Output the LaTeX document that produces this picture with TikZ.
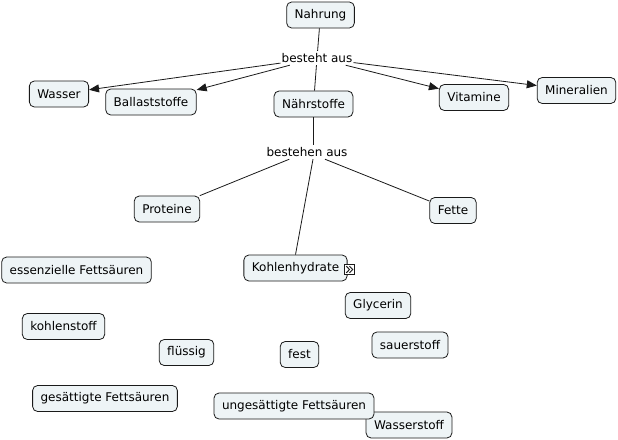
\documentclass[tikz,border=0pt]{standalone}
\usepackage{fontspec}
\setmainfont{DejaVu Sans}
\usetikzlibrary{arrows.meta}
\definecolor{cfill}{HTML}{EEF4F6}
\definecolor{cline}{HTML}{1A1A1A}
\begin{document}
\begin{tikzpicture}[x=1pt,y=-1pt,
  concept/.style={draw=cline, fill=cfill, rounded corners=5pt, minimum height=26pt,
    inner xsep=8pt, inner ysep=0pt, font=\fontsize{12}{14}\selectfont, line width=0.8pt},
  linkph/.style={inner xsep=1pt, inner ysep=0pt, minimum height=14pt,
    font=\fontsize{12}{14}\selectfont},
  conn/.style={line width=0.8pt, draw=cline},
  arr/.style={conn, -{Triangle[length=10pt,width=8pt]}}]
\useasboundingbox (0,0) rectangle (618,439);
\fill[white] (0,0) rectangle (618,439);

% concepts
\node[concept] (nahrung) at (320.5,15) {Nahrung};
\node[concept] (wasser) at (59,94) {Wasser};
\node[concept] (ballast) at (151,102) {Ballaststoffe};
\node[concept] (naehr) at (313.5,104) {Nährstoffe};
\node[concept] (vitamine) at (474,97.5) {Vitamine};
\node[concept] (mineral) at (576.5,90.5) {Mineralien};
\node[concept] (proteine) at (167,209) {Proteine};
\node[concept] (fette) at (453,210.5) {Fette};
\node[concept] (kohl) at (295.5,268) {Kohlenhydrate};
\node[concept] (essenz) at (76.5,270) {essenzielle Fettsäuren};
\node[concept] (kstoff) at (63.5,326.5) {kohlenstoff};
\node[concept] (fluessig) at (186.5,352.5) {flüssig};
\node[concept] (gesaett) at (105,398.5) {gesättigte Fettsäuren};
\node[concept] (glycerin) at (378,305.5) {Glycerin};
\node[concept] (sauer) at (410,345) {sauerstoff};
\node[concept] (fest) at (299.5,354.5) {fest};
\node[concept] (wstoff) at (409,425) {Wasserstoff};
\node[concept] (ungesaett) at (294,406) {ungesättigte Fettsäuren};

% expand icon
\node[draw=cline, fill=white, line width=0.8pt, minimum size=9.5pt, inner sep=0pt] (kicon) at (349.5,269.5) {};
\draw[conn, line width=1pt] ([shift={(-3.2,-3.3)}]kicon.center) -- ([shift={(0,0)}]kicon.center) -- ([shift={(-3.2,3.3)}]kicon.center);
\draw[conn, line width=1pt] ([shift={(0,-3.3)}]kicon.center) -- ([shift={(3.2,0)}]kicon.center) -- ([shift={(0,3.3)}]kicon.center);

% linking phrases
\node[linkph] (besteht) at (317,58) {besteht aus};
\node[linkph] (bestehen) at (307,152) {bestehen aus};

% connectors
\draw[conn] (nahrung) -- (besteht);
\draw[conn] (besteht) -- (naehr);
\draw[arr] (besteht) -- (wasser);
\draw[arr] (besteht) -- (ballast);
\draw[arr] (besteht) -- (vitamine);
\draw[arr] (besteht) -- (mineral);

\draw[conn] (naehr.south) -- (naehr.south |- bestehen.north);
\draw[conn] (bestehen) -- (proteine);
\draw[conn] (bestehen) -- (fette);
\draw[conn] ([xshift=6pt]bestehen.south) -- (kohl.north);
\end{tikzpicture}
\end{document}
